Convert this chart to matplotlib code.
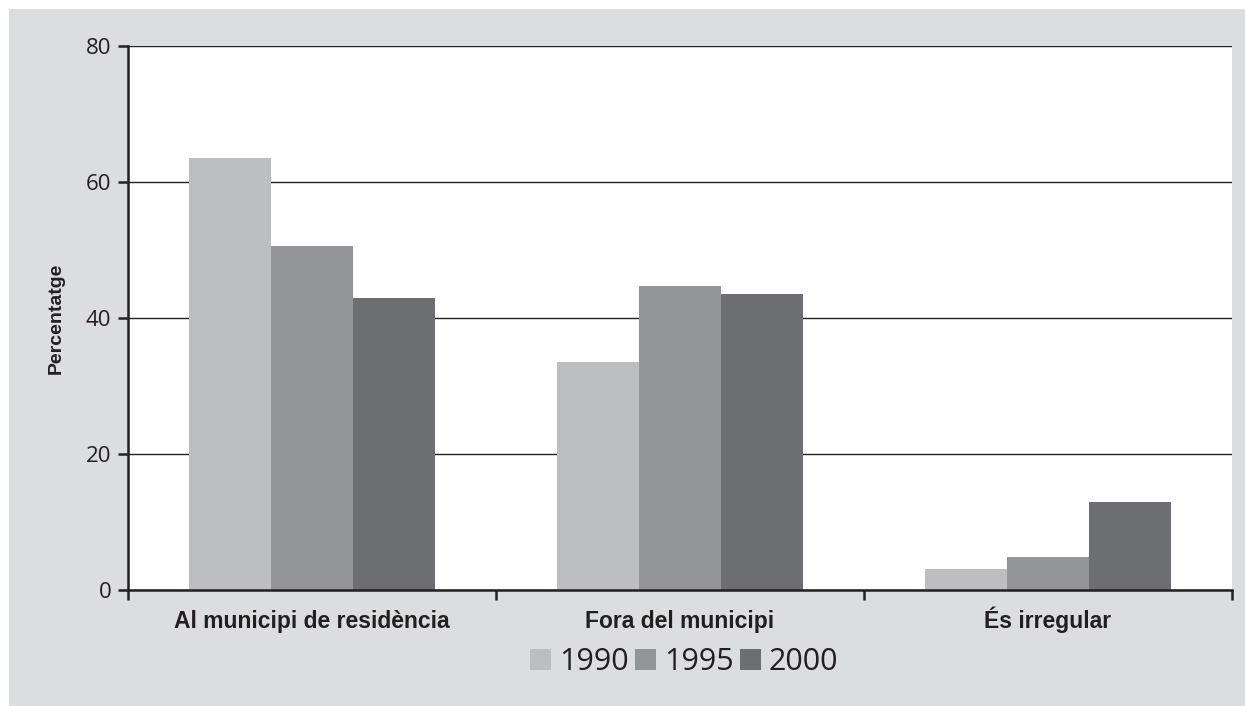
import matplotlib.pyplot as plt
import numpy as np
from matplotlib.patches import Rectangle
import matplotlib.transforms as mtransforms

categories = ['Al municipi de residència', 'Fora del municipi', 'És irregular']
years = ['1990', '1995', '2000']
v1990 = [63.5, 33.5, 3.1]
v1995 = [50.6, 44.7, 4.9]
v2000 = [42.9, 43.5, 12.9]
colors = ['#bdbec0', '#939598', '#6d6e71']

fig = plt.figure(figsize=(12.45, 7.06), dpi=100)
fig.patch.set_facecolor('white')
# gray panel behind the chart
fig.patches.append(Rectangle((9 / 1245, 0), 1, 1 - 9 / 706, transform=fig.transFigure,
                             facecolor='#dcdddf', edgecolor='none', zorder=-10))

ax = fig.add_axes([128 / 1245, 1 - 590 / 706, (1232 - 128) / 1245, (590 - 46) / 706])
ax.set_facecolor('white')

x = np.arange(len(categories))
w = 0.222
for i, (vals, yr) in enumerate(zip([v1990, v1995, v2000], years)):
    ax.bar(x + (i - 1) * w, vals, w, color=colors[i], label=yr, zorder=3)

ax.set_xlim(-0.5, 2.5)
ax.set_ylim(0, 80)
ax.set_yticks([0, 20, 40, 60, 80])
ax.yaxis.grid(True, color='#231f20', linewidth=1.0, zorder=1)
ax.set_axisbelow(True)

for s in ['top', 'right']:
    ax.spines[s].set_visible(False)
for s in ['left', 'bottom']:
    ax.spines[s].set_color('#231f20')
    ax.spines[s].set_linewidth(1.8)
    ax.spines[s].set_zorder(4)

ax.set_xticks([-0.5, 0.5, 1.5, 2.5])
ax.set_xticklabels([])
ax.tick_params(axis='x', which='major', length=7, width=1.8, color='#231f20')

# category labels, all on one baseline
trans = mtransforms.blended_transform_factory(ax.transData, ax.transAxes)
for xi, cat in zip(x, categories):
    ax.text(xi, -0.07, cat, transform=trans, ha='center', va='baseline',
            fontsize=16.5, fontweight='bold', family=['Liberation Sans', 'DejaVu Sans'],
            color='#231f20')

ax.tick_params(axis='y', length=7, width=1.8, color='#231f20', labelsize=16,
               labelcolor='#231f20', pad=5)
for lab in ax.get_yticklabels():
    lab.set_family(['Open Sans', 'DejaVu Sans'])

ax.set_ylabel('Percentatge', fontsize=14, fontweight='bold',
              family=['Liberation Sans Narrow', 'Liberation Sans', 'DejaVu Sans'],
              color='#231f20', labelpad=15)

leg = fig.legend(loc='center', bbox_to_anchor=(684 / 1245, 1 - 662 / 706), ncol=3,
                 frameon=False, handlelength=0.7, handleheight=0.7, handletextpad=0.25,
                 columnspacing=0.2, prop={'family': ['Open Sans', 'DejaVu Sans'], 'size': 22})
for t in leg.get_texts():
    t.set_color('#231f20')

fig.savefig('out.png', dpi=100, facecolor=fig.get_facecolor())
